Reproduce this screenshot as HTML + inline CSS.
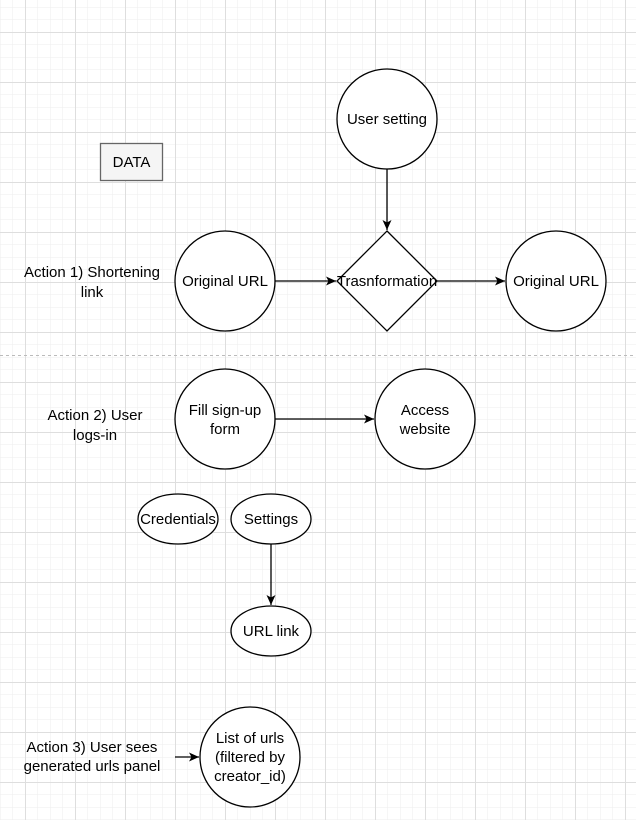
<!DOCTYPE html>
<html><head><meta charset="utf-8"><style>
html,body{margin:0;padding:0;background:#fff;}
svg{display:block;}
text{font-family:"Liberation Sans",Helvetica,Arial,sans-serif;font-size:15px;fill:#000;}
</style></head><body>
<svg width="636" height="820" viewBox="0 0 636 820" xmlns="http://www.w3.org/2000/svg">
<defs>
<pattern id="minor" width="12.5" height="12.5" patternUnits="userSpaceOnUse" x="0" y="7">
<path d="M0 0H12.5M0 0V12.5" stroke="#eeeeee" stroke-width="1" fill="none"/>
</pattern>
<pattern id="major" width="50" height="50" patternUnits="userSpaceOnUse" x="25" y="32">
<path d="M0 0.5H50M0.5 0V50" stroke="#dedede" stroke-width="1" fill="none"/>
</pattern>
<marker id="ar" markerWidth="12" markerHeight="12" refX="10" refY="6" orient="auto" markerUnits="userSpaceOnUse">
<path d="M0 1.5L10 6L0 10.5L2.5 6Z" fill="#000"/>
</marker>
</defs>
<rect width="636" height="820" fill="url(#minor)"/>
<rect width="636" height="820" fill="url(#major)"/>

<rect x="100.5" y="143.5" width="62" height="37" fill="#f5f5f5" stroke="#666" stroke-width="1.3"/>
<text x="131.5" y="167" text-anchor="middle" fill="#333">DATA</text>

<g stroke="#000" stroke-width="1.3" fill="#fff">
<circle cx="387" cy="119" r="50"/>
<path d="M387 231L437 281L387 331L337 281Z"/>
<circle cx="225" cy="281" r="50"/>
<circle cx="556" cy="281" r="50"/>
<circle cx="225" cy="419" r="50"/>
<circle cx="425" cy="419" r="50"/>
<ellipse cx="178" cy="519" rx="40" ry="25"/>
<ellipse cx="271" cy="519" rx="40" ry="25"/>
<ellipse cx="271" cy="631" rx="40" ry="25"/>
<circle cx="250" cy="757" r="50"/>
</g>
<g stroke="#000" stroke-width="1.3" fill="none" marker-end="url(#ar)">
<path d="M387 169V230"/>
<path d="M275 281H336"/>
<path d="M437 281H505"/>
<path d="M275 419H374"/>
<path d="M271 544V605"/>
<path d="M175 757H199"/>
</g>
<path d="M0 355.5H636" stroke="#bbb" stroke-dasharray="3 3"/>

<text x="387" y="124" text-anchor="middle">User setting</text>
<text x="387" y="286" text-anchor="middle">Trasnformation</text>
<text x="225" y="286" text-anchor="middle">Original URL</text>
<text x="556" y="286" text-anchor="middle">Original URL</text>
<text x="92" y="277" text-anchor="middle">Action 1) Shortening</text>
<text x="92" y="297" text-anchor="middle">link</text>
<text x="95" y="420" text-anchor="middle">Action 2) User</text>
<text x="95" y="440" text-anchor="middle">logs-in</text>
<text x="225" y="415" text-anchor="middle">Fill sign-up</text>
<text x="225" y="434" text-anchor="middle">form</text>
<text x="425" y="415" text-anchor="middle">Access</text>
<text x="425" y="434" text-anchor="middle">website</text>
<text x="178" y="524" text-anchor="middle">Credentials</text>
<text x="271" y="524" text-anchor="middle">Settings</text>
<text x="271" y="636" text-anchor="middle">URL link</text>
<text x="92" y="752" text-anchor="middle">Action 3) User sees</text>
<text x="92" y="771" text-anchor="middle">generated urls panel</text>
<text x="250" y="743" text-anchor="middle">List of urls</text>
<text x="250" y="762" text-anchor="middle">(filtered by</text>
<text x="250" y="781" text-anchor="middle">creator_id)</text>
</svg>
</body></html>
